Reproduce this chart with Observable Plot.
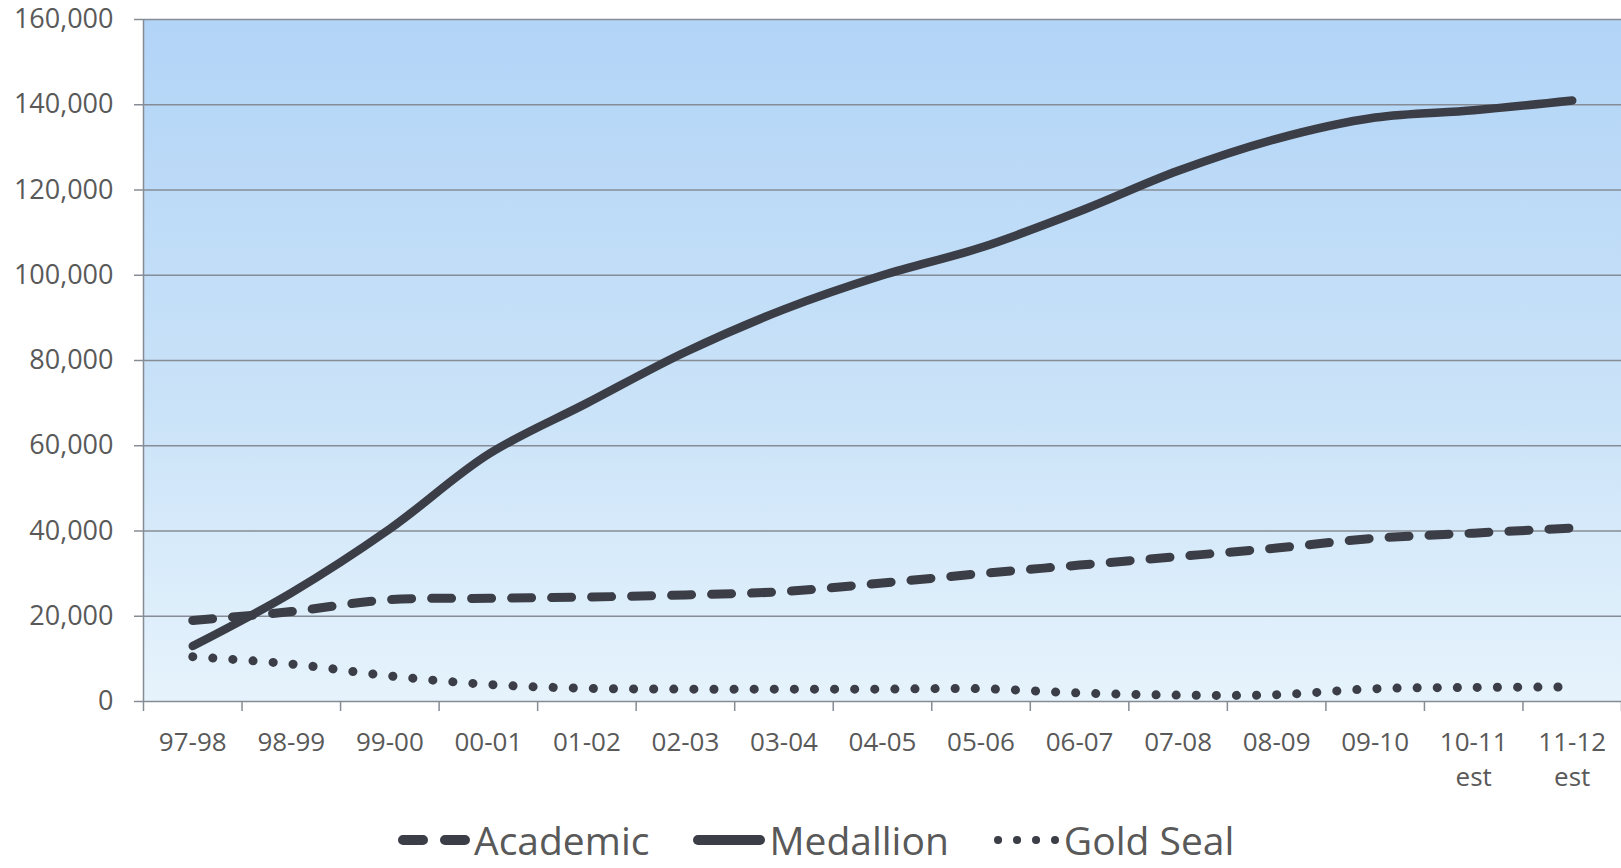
<!DOCTYPE html>
<html>
<head>
<meta charset="utf-8">
<script src="https://cdn.jsdelivr.net/npm/d3@7"></script>
<script src="https://cdn.jsdelivr.net/npm/@observablehq/plot@0.6"></script>
<style>
  html, body { margin: 0; padding: 0; background: #ffffff; }
  body { position: relative; width: 1621px; height: 868px; overflow: hidden; font-family: "Open Sans", sans-serif; }
  #chart { position: absolute; left: 0; top: 0; }
  #chart svg { display: block; }
  #legend { position: absolute; left: 398px; top: 820px; height: 40px; display: flex; align-items: center; }
  #legend .item { display: flex; align-items: center; margin-right: 44px; }
  #legend .item span { display: block; font-size: 39px; color: #595959; line-height: 40px; height: 40px; margin-left: 4px; }
  #legend svg { display: block; }
</style>
</head>
<body>
<div id="chart"></div>
<div id="legend"></div>
<script>
// School years (the last two are estimates)
const years = ["97-98", "98-99", "99-00", "00-01", "01-02", "02-03", "03-04", "04-05",
               "05-06", "06-07", "07-08", "08-09", "09-10", "10-11\nest", "11-12\nest"];

// Number of students per award
const academic  = [19000, 21100, 23900, 24200, 24500, 25000, 25800, 27800,
                   30000, 32000, 34000, 36000, 38300, 39500, 40700];
const medallion = [13000, 25500, 40500, 58000, 70000, 82000, 92000, 100000,
                   106500, 115000, 124500, 132000, 137000, 138700, 141000];
const goldSeal  = [10500, 8800, 6000, 4000, 3100, 2900, 2900, 2900,
                   3000, 2000, 1500, 1600, 3000, 3300, 3400];

const yTicks = [0, 20000, 40000, 60000, 80000, 100000, 120000, 140000, 160000];
const seriesNames = ["Academic", "Medallion", "Gold Seal"];

const lineColor = "#3b3e47";
const gridColor = "#868c95";
const textColor = "#595959";

const rows = (values) => values.map((v, i) => ({i, v}));
const idx = d3.range(years.length);
const edges = d3.range(years.length + 1).map(i => i - 0.5);

const chart = Plot.plot({
  width: 1621,
  height: 820,
  marginTop: 19,
  marginBottom: 119,
  marginLeft: 143,
  marginRight: 0,
  style: {fontFamily: "'Open Sans', sans-serif", fontSize: "26px", color: textColor, background: "transparent"},
  x: {domain: [-0.5, years.length - 0.5], axis: null},
  y: {domain: [0, 160000], axis: null},
  marks: [
    Plot.frame({fill: "url(#plotBg)", stroke: null}),
    Plot.ruleY(yTicks, {stroke: gridColor, strokeWidth: 1.5}),
    Plot.ruleX([edges[0]], {stroke: gridColor, strokeWidth: 1.5}),
    Plot.axisY({ticks: yTicks, tickFormat: d3.format(","), tickSize: 9, tickPadding: 21,
                stroke: gridColor, strokeWidth: 1.5, fill: textColor, fontSize: 27, label: null}),
    Plot.axisX({ticks: edges, tickFormat: () => "", tickSize: 10,
                stroke: gridColor, strokeWidth: 1.5, label: null}),
    Plot.axisX({ticks: idx, tickFormat: i => years[i], tickSize: 0, tickPadding: 24,
                lineHeight: 1.36, fill: textColor, label: null}),
    Plot.line(rows(goldSeal), {x: "i", y: "v", stroke: lineColor, strokeWidth: 9,
                strokeLinecap: "round", strokeDasharray: "0.1 20", curve: "catmull-rom"}),
    Plot.line(rows(academic), {x: "i", y: "v", stroke: lineColor, strokeWidth: 9,
                strokeLinecap: "round", strokeDasharray: "20 20", curve: "catmull-rom"}),
    Plot.line(rows(medallion), {x: "i", y: "v", stroke: lineColor, strokeWidth: 8.5,
                strokeLinecap: "round", curve: "catmull-rom"})
  ]
});

// Sky-blue vertical gradient behind the plotting area
const grad = d3.select(chart).insert("defs", ":first-child")
  .append("linearGradient")
  .attr("id", "plotBg").attr("x1", 0).attr("y1", 0).attr("x2", 0).attr("y2", 1);
grad.append("stop").attr("offset", "0%").attr("stop-color", "#b2d4f7");
grad.append("stop").attr("offset", "55%").attr("stop-color", "#c9e2f8");
grad.append("stop").attr("offset", "100%").attr("stop-color", "#e6f3fc");

document.getElementById("chart").appendChild(chart);

// Legend: one swatch per line style
const swatches = {
  "Academic":  {w: 72, dash: "20 22"},
  "Medallion": {w: 72, dash: null},
  "Gold Seal": {w: 67, dash: "0.1 18.9"}
};
const legend = d3.select("#legend");
for (const name of seriesNames) {
  const s = swatches[name];
  const item = legend.append("div").attr("class", "item");
  const svg = item.append("svg").attr("width", s.w).attr("height", 14);
  svg.append("line")
    .attr("x1", 5).attr("x2", s.w - 5).attr("y1", 7).attr("y2", 7)
    .attr("stroke", lineColor).attr("stroke-width", name === "Gold Seal" ? 8 : 10)
    .attr("stroke-linecap", "round")
    .attr("stroke-dasharray", s.dash);
  item.append("span").text(name);
}
</script>
</body>
</html>
